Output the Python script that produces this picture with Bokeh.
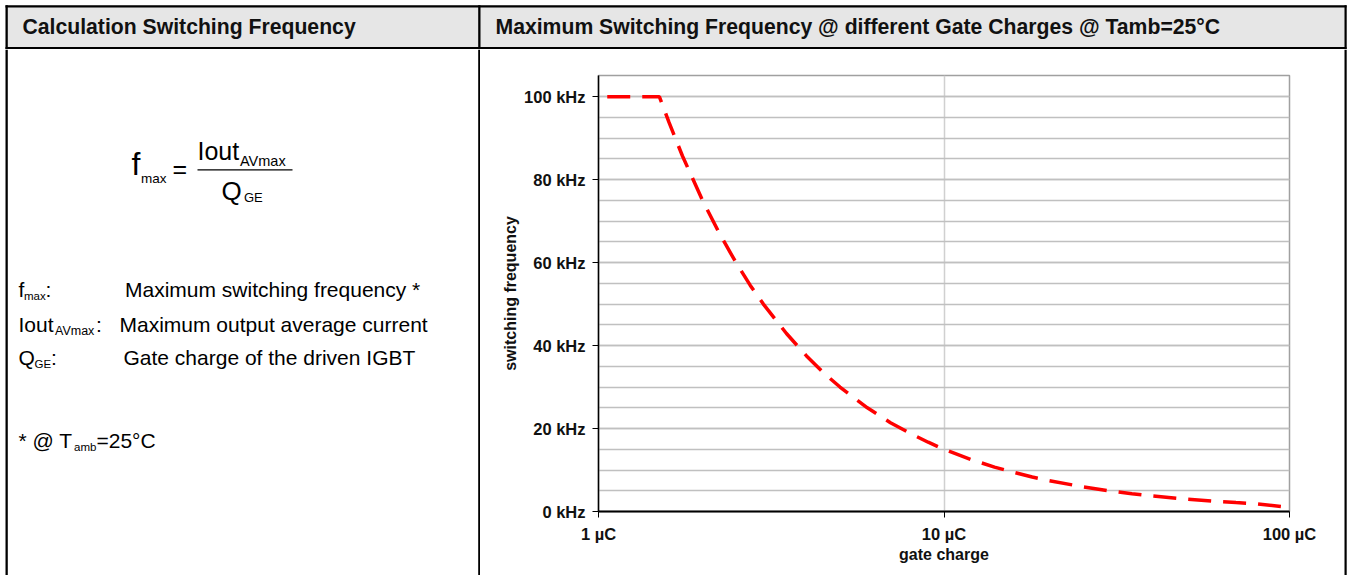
from bokeh.plotting import figure
from bokeh.models import Range1d, FixedTicker
from bokeh.layouts import column, row
from bokeh.embed import file_html
from bokeh.resources import INLINE
from bokeh.core.properties import value

FONT = "Liberation Sans"

# ---------------- data ----------------
gate_charge_uC = [1.06, 1.5, 1.6, 1.75, 2.0, 2.25, 2.5, 2.75, 3.0, 3.5, 4.0, 4.5,
                  5.0, 6.0, 7.0, 8.0, 9.0, 10.0, 12.0, 14.0, 16.0, 18.0, 20.0,
                  25.0, 30.0, 35.0, 40.0, 50.0, 60.0, 70.0, 80.0, 100.0]
switching_freq_kHz = [100.0, 100.0, 93.8, 85.7, 75.0, 66.7, 60.0, 54.5, 50.0, 42.9, 37.5, 33.3,
                      30.0, 25.0, 21.4, 18.8, 16.7, 15.0, 12.5, 10.7, 9.4, 8.3, 7.5,
                      6.0, 5.0, 4.3, 3.75, 3.0, 2.5, 2.15, 1.88, 0.95]
x_ticks = [1, 10, 100]
x_tick_labels = ["1 µC", "10 µC", "100 µC"]
y_ticks = [0, 20, 40, 60, 80, 100]
y_tick_labels = ["0 kHz", "20 kHz", "40 kHz", "60 kHz", "80 kHz", "100 kHz"]

left_title = "Calculation Switching Frequency"
right_title = "Maximum Switching Frequency @ different Gate Charges @ Tamb=25°C"

BASE_SHIFT = 0.37  # svg text sits this many em lower than the requested baseline


def blank(w, h, x0, x1, y_top, y_bot):
    p = figure(width=w, height=h, x_range=Range1d(x0, x1), y_range=Range1d(y_bot, y_top),
               output_backend="svg", toolbar_location=None, title=None,
               x_axis_location=None, y_axis_location=None, min_border=0)
    p.min_border_left = p.min_border_right = p.min_border_top = p.min_border_bottom = 0
    p.outline_line_color = None
    p.grid.visible = False
    p.background_fill_color = "white"
    p.border_fill_color = "white"
    p.frame_align = False
    return p


def txt(p, x, y, s, size, bold=False, align="left", color="#000000"):
    p.text(x=[x], y=[y - BASE_SHIFT * size], text=[s], text_font=value(FONT),
           text_font_size=value(f"{size}px"),
           text_font_style="bold" if bold else "normal",
           text_align=align, text_baseline="alphabetic", text_color=color)


def box(p, l, r, t, b, color):
    p.quad(left=[l], right=[r], top=[t], bottom=[b], fill_color=color, line_color=None)


# ---------------- header row ----------------
hdr = blank(1348, 49, 0, 1348, 0, 49)
box(hdr, 5, 1346, 5, 47, "#e6e6e6")
box(hdr, 5, 1346, 4.7, 6.9, "#000000")
box(hdr, 5, 1346, 46.5, 48.7, "#000000")
box(hdr, 5, 7.3, 4.7, 49, "#000000")
box(hdr, 477.7, 480, 4.7, 49, "#000000")
box(hdr, 1344, 1346.2, 4.7, 49, "#000000")
txt(hdr, 22, 33.7, left_title, 21.2, bold=True, color="#111111")
txt(hdr, 495, 33.7, right_title, 21.2, bold=True, color="#111111")

# ---------------- left panel ----------------
lp = blank(480, 526, 0, 480, 49, 575)
box(lp, 5, 7.3, 49, 575, "#000000")
box(lp, 477.7, 480, 49, 575, "#000000")

# formula
txt(lp, 131, 175.7, "f", 32)
txt(lp, 140.5, 182.7, "max", 13.5)
txt(lp, 172, 178, "=", 25)
lp.segment(x0=[197], y0=[169.3], x1=[292], y1=[169.3], line_color="#000000", line_width=1.3)
txt(lp, 197, 160, "Iout", 25)
txt(lp, 239.5, 165.7, "AVmax", 14.5)
txt(lp, 221, 200.5, "Q", 26)
txt(lp, 243.5, 201.7, "GE", 13)

# legend rows
txt(lp, 18, 297, "f", 21)
txt(lp, 23.5, 300, "max", 11.5)
txt(lp, 45, 297, ":", 21)
txt(lp, 124.5, 297, "Maximum switching frequency *", 21)

txt(lp, 18, 332, "Iout", 21)
txt(lp, 54.5, 335, "AVmax", 12.5)
txt(lp, 95.5, 332, ":", 21)
txt(lp, 119, 332, "Maximum output average current", 21)

txt(lp, 18, 365, "Q", 21)
txt(lp, 34, 368, "GE", 11.5)
txt(lp, 50.5, 365, ":", 21)
txt(lp, 123, 365, "Gate charge of the driven IGBT", 21)

txt(lp, 18, 448, "* @ T", 21)
txt(lp, 73.5, 451, "amb", 11.5)
txt(lp, 96, 448, "=25°C", 21)

# ---------------- chart ----------------
c = figure(width=860, height=526, x_axis_type="log",
           x_range=Range1d(1, 100), y_range=Range1d(0, 105.1),
           output_backend="svg", toolbar_location=None, title=None,
           min_border_left=118, min_border_right=51, min_border_top=26, min_border_bottom=64)
c.frame_align = False
c.background_fill_color = "white"
c.border_fill_color = "white"
c.outline_line_color = "#a0a0a0"
c.outline_line_width = 1.5

c.xaxis.ticker = FixedTicker(ticks=x_ticks, minor_ticks=[])
c.xaxis.major_label_overrides = dict(zip(x_ticks, x_tick_labels))
c.yaxis.ticker = FixedTicker(ticks=y_ticks, minor_ticks=list(range(5, 105, 5)))
c.yaxis.major_label_overrides = dict(zip(y_ticks, y_tick_labels))

for ax in (c.xaxis[0], c.yaxis[0]):
    ax.axis_line_color = "#000000"
    ax.major_tick_line_color = "#000000"
    ax.major_tick_in = 0
    ax.major_tick_out = 6
    ax.minor_tick_in = 0
    ax.minor_tick_out = 0
    ax.major_label_text_font = FONT
    ax.major_label_text_font_style = "bold"
    ax.major_label_text_font_size = "16.5px"
    ax.major_label_text_color = "#111111"
    ax.axis_label_text_font = FONT
    ax.axis_label_text_font_style = "bold"
    ax.axis_label_text_font_size = "16px"
    ax.axis_label_text_color = "#111111"

c.xaxis.axis_line_width = 2
c.yaxis.axis_line_width = 1.5
c.xaxis.axis_label = "gate charge"
c.yaxis.axis_label = "switching frequency"
c.xaxis.major_label_standoff = 7
c.xaxis.axis_label_standoff = 0
c.yaxis.major_label_standoff = 7
c.yaxis.axis_label_standoff = 2

c.xgrid.grid_line_color = "#d0d0d0"
c.xgrid.grid_line_width = 1.5
c.ygrid.grid_line_color = "#c0c0c0"
c.ygrid.grid_line_width = 1.3
c.ygrid.minor_grid_line_color = "#c0c0c0"
c.ygrid.minor_grid_line_width = 1.3

c.line(gate_charge_uC, switching_freq_kHz, line_color="#ff0000",
       line_width=3.5, line_dash="23 12")

# ---------------- right border strip ----------------
strip = blank(8, 526, 1340, 1348, 49, 575)
box(strip, 1344, 1346.2, 49, 575, "#000000")

layout = column(hdr, row(lp, c, strip, spacing=0), spacing=0)

open("out.html", "w").write(file_html(layout, INLINE))
